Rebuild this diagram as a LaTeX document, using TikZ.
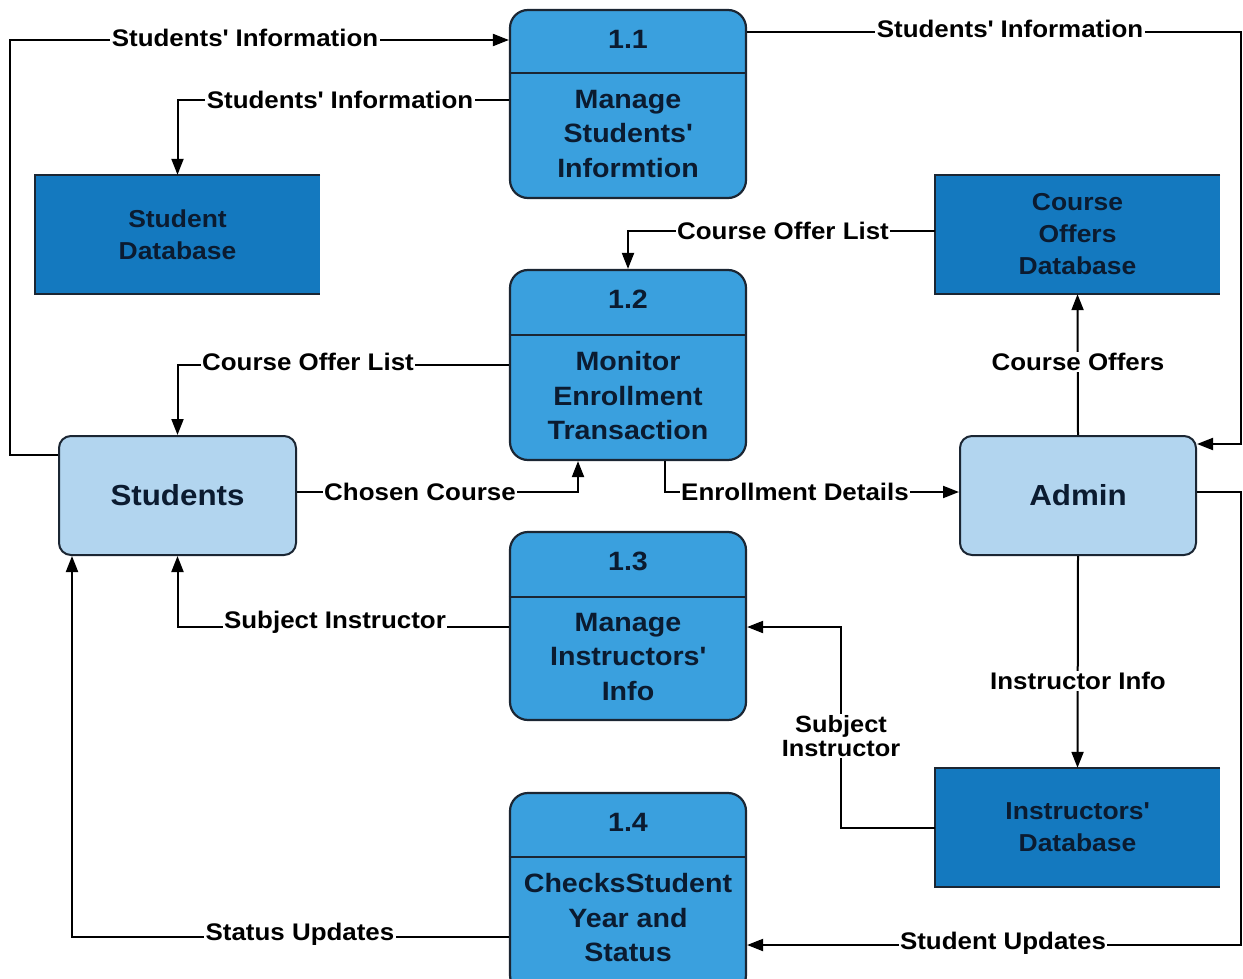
\documentclass[tikz,border=0pt]{standalone}
\usepackage{fontspec}
\setmainfont[FakeStretch=1.08]{Liberation Sans}
\usetikzlibrary{arrows.meta}
\definecolor{procfill}{HTML}{3AA0DE}
\definecolor{dbfill}{HTML}{1479BF}
\definecolor{entfill}{HTML}{B2D5EF}
\definecolor{ink}{HTML}{0B1B30}
\definecolor{edge}{HTML}{1B2633}
\newcommand{\q}{\textquotesingle}
\tikzset{
  proc/.style={draw=edge, line width=2.2pt, fill=procfill, rounded corners=18pt, minimum width=236pt, inner sep=0pt},
  proctext/.style={text=ink, font=\bfseries\fontsize{26.5}{34.5}\selectfont, align=center, inner sep=0pt},
  ent/.style={draw=edge, line width=2pt, fill=entfill, rounded corners=12pt, minimum width=237pt, minimum height=119pt, inner sep=0pt, text=ink, font=\bfseries\fontsize{29}{32}\selectfont},
  db/.style={fill=dbfill, minimum width=285pt, minimum height=119pt, inner sep=0pt, text=ink, font=\bfseries\fontsize{24.5}{32}\selectfont, align=center},
  conn/.style={line width=2pt, draw=black},
  arr/.style={conn, -{Triangle[length=16pt,width=12pt]}},
  lbl/.style={fill=white, inner sep=1.5pt, text=black, font=\bfseries\fontsize{24}{24}\selectfont, align=center}
}
\begin{document}
\begin{tikzpicture}[x=1pt,y=-1pt]
\useasboundingbox (0,0) rectangle (1243,979);
\clip (0,0) rectangle (1243,979);
\fill[white] (0,0) rectangle (1243,979);

% entities
\node[ent] (st) at (177.5,495.5) {Students};
\node[ent, minimum width=236pt] (ad) at (1078,495.5) {Admin};

% data stores
\node[db] (sdb) at (177.5,234.5) {Student\\Database};
\node[db] (cdb) at (1077.5,234.5) {Course\\Offers\\Database};
\node[db] (idb) at (1077.5,827.5) {Instructors\q\\Database};
\foreach \d in {sdb,cdb,idb}{
  \draw[edge, line width=2.2pt] (\d.north east) -- (\d.north west) -- (\d.south west) -- (\d.south east);
}

% processes
\node[proc, minimum height=188pt] (p1) at (628,104) {};
\node[proc, minimum height=190pt] (p2) at (628,365) {};
\node[proc, minimum height=188pt] (p3) at (628,626) {};
\node[proc, minimum height=200pt] (p4) at (628,893) {};
\coordinate (h1) at (0,73);
\coordinate (h2) at (0,335);
\coordinate (h3) at (0,597);
\coordinate (h4) at (0,857);
\draw[edge, line width=2.2pt] (p1.west |- h1) -- (p1.east |- h1);
\draw[edge, line width=2.2pt] (p2.west |- h2) -- (p2.east |- h2);
\draw[edge, line width=2.2pt] (p3.west |- h3) -- (p3.east |- h3);
\draw[edge, line width=2.2pt] (p4.west |- h4) -- (p4.east |- h4);
\node[proctext] (p1n) at (628,39) {1.1};
\node[proctext] (p1t) at (628,134) {Manage\\Students\q\\Informtion};
\node[proctext] (p2n) at (628,299) {1.2};
\node[proctext] (p2t) at (628,396) {Monitor\\Enrollment\\Transaction};
\node[proctext] (p3n) at (628,561) {1.3};
\node[proctext] (p3t) at (628,657) {Manage\\Instructors\q\\Info};
\node[proctext] (p4n) at (628,822) {1.4};
\node[proctext] (p4t) at (628,918) {ChecksStudent\\Year and\\Status};

% helper coordinates
\coordinate (y40) at (0,40);
\coordinate (y455) at (0,455);
\coordinate (x10) at (10,0);
\coordinate (y100) at (0,100);
\coordinate (y32) at (0,32);
\coordinate (y444) at (0,444);
\coordinate (xR) at (1241,0);
\coordinate (y231) at (0,231);
\coordinate (y365) at (0,365);
\coordinate (y492) at (0,492);
\coordinate (x578) at (578,0);
\coordinate (x665) at (665,0);
\coordinate (y945) at (0,945);
\coordinate (y828) at (0,828);
\coordinate (x841) at (841,0);
\coordinate (y627) at (0,627);
\coordinate (y937) at (0,937);
\coordinate (x72) at (72,0);

% 1. Students -> 1.1
\draw[arr] (st.west |- y455) -- (x10 |- y455) -- (x10 |- y40) -- (p1.west |- y40);
\node[lbl] (l1) at (245,38) {Students\q{} Information};
% 2. 1.1 -> Student DB
\draw[arr] (p1.west |- y100) -| (sdb.north);
\node[lbl] (l2) at (340,100) {Students\q{} Information};
% 3. 1.1 -> Admin
\draw[arr] (p1.east |- y32) -- (xR |- y32) -- (xR |- y444) -- (ad.east |- y444);
\node[lbl] (l3) at (1010,29) {Students\q{} Information};
% 4. Course DB -> 1.2
\draw[arr] (cdb.west |- y231) -| (p2.north);
\node[lbl] (l4) at (783,231) {Course Offer List};
% 5. Admin -> Course DB
\draw[arr] (ad.north) -- (cdb.south);
\node[lbl] (l5) at (1078,362) {Course Offers};
% 6. 1.2 -> Students
\draw[arr] (p2.west |- y365) -| (st.north);
\node[lbl] (l6) at (308,362) {Course Offer List};
% 7. Students -> 1.2
\draw[arr] (st.east |- y492) -- (x578 |- y492) -- (p2.south -| x578);
\node[lbl] (l7) at (420,492) {Chosen Course};
% 8. 1.2 -> Admin
\draw[arr] (p2.south -| x665) -- (x665 |- y492) -- (ad.west |- y492);
\node[lbl] (l8) at (795,492) {Enrollment Details};
% 9. Admin -> 1.4
\draw[arr] (ad.east |- y492) -- (xR |- y492) -- (xR |- y945) -- (p4.east |- y945);
\node[lbl] (l9) at (1003,943) {Student Updates};
% 10. Admin -> Instructors DB
\draw[arr] (ad.south) -- (idb.north);
\node[lbl] (l10) at (1078,681) {Instructor Info};
% 11. Instructors DB -> 1.3
\draw[arr] (idb.west |- y828) -- (x841 |- y828) -- (x841 |- y627) -- (p3.east |- y627);
\node[lbl, font=\bfseries\fontsize{23.5}{24}\selectfont] (l11) at (841,736) {Subject\\Instructor};
% 12. 1.3 -> Students
\draw[arr] (p3.west |- y627) -| (st.south);
\node[lbl] (l12) at (335,622) {Subject Instructor};
% 13. 1.4 -> Students
\draw[arr] (p4.west |- y937) -- (x72 |- y937) -- (st.south -| x72);
\node[lbl] (l13) at (300,934) {Status Updates};
\end{tikzpicture}
\end{document}
